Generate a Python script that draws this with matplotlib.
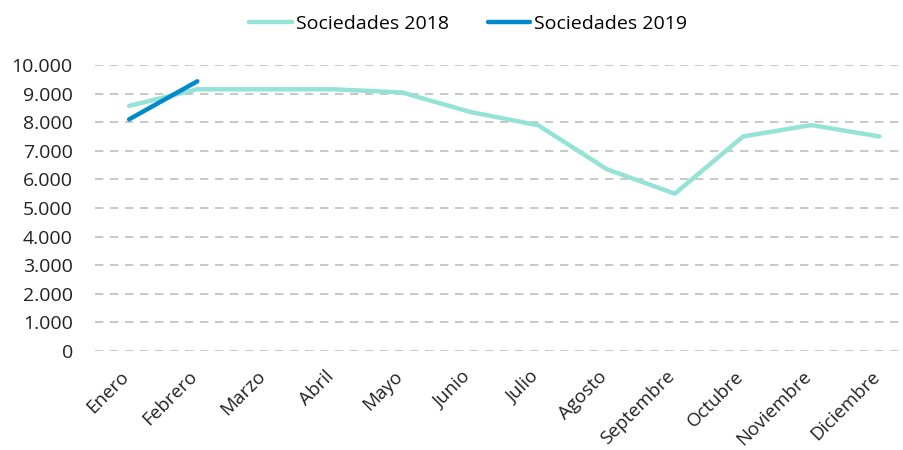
import matplotlib.pyplot as plt
import matplotlib.transforms as mtransforms
import numpy as np

months = ['Enero', 'Febrero', 'Marzo', 'Abril', 'Mayo', 'Junio', 'Julio',
          'Agosto', 'Septembre', 'Octubre', 'Noviembre', 'Diciembre']
soc_2018 = [8570, 9150, 9150, 9150, 9040, 8360, 7890, 6360, 5500, 7500, 7900, 7500]
soc_2019 = [8100, 9430]
y_ticks = [0, 1000, 2000, 3000, 4000, 5000, 6000, 7000, 8000, 9000, 10000]
y_labels = ['0', '1.000', '2.000', '3.000', '4.000', '5.000', '6.000',
            '7.000', '8.000', '9.000', '10.000']

plt.rcParams['font.family'] = ['Open Sans', 'DejaVu Sans']

fig = plt.figure(figsize=(9.04, 4.5), dpi=100)
ax = fig.add_axes([95 / 904, 99 / 450, 809 / 904, 286 / 450])

x = np.arange(len(months))
ax.plot(x, soc_2018, color='#95E3D6', lw=3.2, label='Sociedades 2018',
        solid_capstyle='round')
ax.plot(x[:len(soc_2019)], soc_2019, color='#008ACC', lw=3.2,
        label='Sociedades 2019', solid_capstyle='round')

ax.set_xlim(-0.5, 11.36)
ax.set_ylim(0, 10000)
ax.set_yticks(y_ticks)
ax.set_yticklabels(y_labels, fontsize=14, color='#222222')
ax.set_xticks(x)
ax.set_xticklabels(months, rotation=45, ha='right', rotation_mode='anchor',
                   fontsize=13.5, color='#222222')
ax.tick_params(length=0)
ax.tick_params(axis='y', pad=16)
ax.tick_params(axis='x', pad=9)

# nudge the rotated month labels so their ends sit under the ticks
shift = mtransforms.ScaledTranslation(-9 / 100, -4 / 100, fig.dpi_scale_trans)
for lbl in ax.get_xticklabels():
    lbl.set_transform(lbl.get_transform() + shift)

ax.grid(axis='y', color='#BFBFBF', lw=1.2, linestyle=(0, (5, 4)))
ax.set_axisbelow(True)
for s in ax.spines.values():
    s.set_visible(False)

fig.legend(loc='upper center', bbox_to_anchor=(0.518, 1.005), ncol=2,
           frameon=False, fontsize=14, handlelength=2.2, handletextpad=0.2,
           columnspacing=2.0)

plt.savefig('out.png', dpi=100)
